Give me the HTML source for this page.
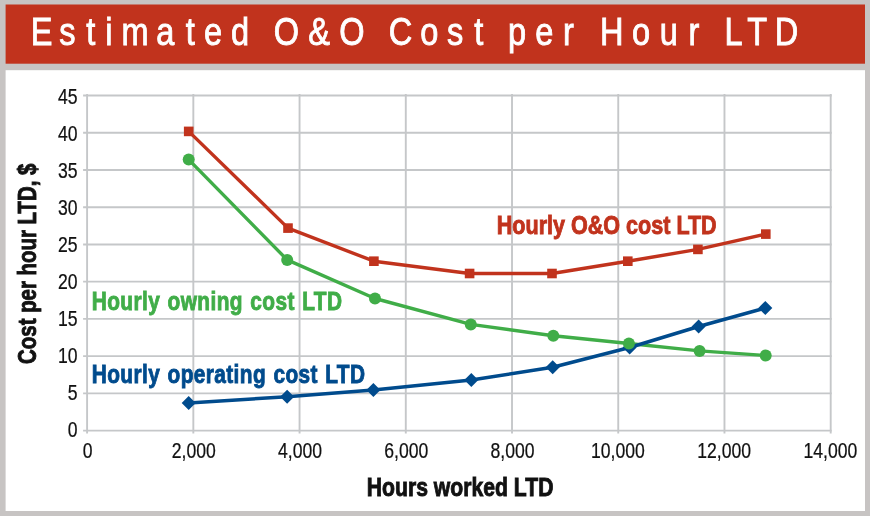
<!DOCTYPE html>
<html lang="en">
<head>
<meta charset="utf-8">
<title>Estimated O&amp;O Cost per Hour LTD</title>
<style>
html,body{margin:0;padding:0;background:#c7c4c3;}
body{width:870px;height:516px;overflow:hidden;font-family:"Liberation Sans",sans-serif;}
svg{display:block;}
text{font-family:"Liberation Sans",sans-serif;}
.tick{font-size:22.8px;fill:#111;stroke:#111;stroke-width:0.25;}
.lbl{font-weight:bold;stroke-linejoin:miter;}
</style>
</head>
<body>
<svg width="870" height="516" viewBox="0 0 870 516">
<rect x="0" y="0" width="870" height="516" fill="#c7c4c3"/>
<rect x="5.6" y="4.5" width="859.4" height="59.2" fill="#c1331d"/>
<rect x="5.6" y="70.2" width="859.4" height="440.8" fill="#ffffff"/>
<text transform="translate(29.90 45.40) scale(0.8300 1)" class="" text-anchor="start" fill="#ffffff" stroke="#ffffff" stroke-width="0.9" font-size="39.2" letter-spacing="11.12" word-spacing="-3.2" dx="1.02 -2.83 1.69 1.02 -0.30 -1.99 2.47 0.00 -0.24 0.00 -0.36 0.00 0.00 0.00 -0.78 -1.51 -0.60 2.23 0.00 -0.30 0.00 0.60 0.00 1.57 -1.08 0.66 1.57 0.00 0.42 -2.53 -1.87">Estimated O&amp;O Cost per Hour LTD</text>
<g stroke="#c5c7c9" stroke-width="1.9" fill="none">
<line x1="83.10" y1="95.50" x2="831.70" y2="95.50"/>
<line x1="83.10" y1="132.73" x2="831.70" y2="132.73"/>
<line x1="83.10" y1="169.97" x2="831.70" y2="169.97"/>
<line x1="83.10" y1="207.20" x2="831.70" y2="207.20"/>
<line x1="83.10" y1="244.43" x2="831.70" y2="244.43"/>
<line x1="83.10" y1="281.67" x2="831.70" y2="281.67"/>
<line x1="83.10" y1="318.90" x2="831.70" y2="318.90"/>
<line x1="83.10" y1="356.13" x2="831.70" y2="356.13"/>
<line x1="83.10" y1="393.37" x2="831.70" y2="393.37"/>
<line x1="83.10" y1="430.60" x2="831.70" y2="430.60"/>
<line x1="87.10" y1="94.00" x2="87.10" y2="433.50"/>
<line x1="193.33" y1="94.00" x2="193.33" y2="433.50"/>
<line x1="299.56" y1="94.00" x2="299.56" y2="433.50"/>
<line x1="405.79" y1="94.00" x2="405.79" y2="433.50"/>
<line x1="512.01" y1="94.00" x2="512.01" y2="433.50"/>
<line x1="618.24" y1="94.00" x2="618.24" y2="433.50"/>
<line x1="724.47" y1="94.00" x2="724.47" y2="433.50"/>
<line x1="830.70" y1="94.00" x2="830.70" y2="433.50"/>
</g>
<text transform="translate(77.60 103.70) scale(0.7720 1)" class="tick" text-anchor="end" >45</text>
<text transform="translate(77.60 140.70) scale(0.7720 1)" class="tick" text-anchor="end" >40</text>
<text transform="translate(77.60 177.70) scale(0.7720 1)" class="tick" text-anchor="end" >35</text>
<text transform="translate(77.60 214.70) scale(0.7720 1)" class="tick" text-anchor="end" >30</text>
<text transform="translate(77.60 251.70) scale(0.7720 1)" class="tick" text-anchor="end" >25</text>
<text transform="translate(77.60 288.70) scale(0.7720 1)" class="tick" text-anchor="end" >20</text>
<text transform="translate(77.60 325.70) scale(0.7720 1)" class="tick" text-anchor="end" >15</text>
<text transform="translate(77.60 362.70) scale(0.7720 1)" class="tick" text-anchor="end" >10</text>
<text transform="translate(77.60 399.70) scale(0.7720 1)" class="tick" text-anchor="end" >5</text>
<text transform="translate(77.60 436.70) scale(0.7720 1)" class="tick" text-anchor="end" >0</text>
<text transform="translate(87.60 457.90) scale(0.7720 1)" class="tick" text-anchor="middle" >0</text>
<text transform="translate(193.83 457.90) scale(0.7720 1)" class="tick" text-anchor="middle" >2,000</text>
<text transform="translate(300.06 457.90) scale(0.7720 1)" class="tick" text-anchor="middle" >4,000</text>
<text transform="translate(406.29 457.90) scale(0.7720 1)" class="tick" text-anchor="middle" >6,000</text>
<text transform="translate(512.51 457.90) scale(0.7720 1)" class="tick" text-anchor="middle" >8,000</text>
<text transform="translate(617.94 457.90) scale(0.7720 1)" class="tick" text-anchor="middle" >10,000</text>
<text transform="translate(724.17 457.90) scale(0.7720 1)" class="tick" text-anchor="middle" >12,000</text>
<text transform="translate(830.40 457.90) scale(0.7720 1)" class="tick" text-anchor="middle" >14,000</text>
<text transform="translate(366.77 496.45) scale(0.8277 1)" class="lbl" text-anchor="start" fill="#111111" stroke="#111111" stroke-width="0.9" word-spacing="0.0" letter-spacing="0.0" font-size="25.6">Hours worked LTD</text>
<text transform="translate(35.75 363.90) rotate(-90) scale(0.7980 1)" class="lbl" text-anchor="start" fill="#111111" stroke="#111111" stroke-width="0.9" font-size="25.6">Cost per hour LTD, $</text>
<text transform="translate(496.75 233.75) scale(0.8424 1)" class="lbl" text-anchor="start" fill="#c1331d" stroke="#c1331d" stroke-width="0.9" word-spacing="0.0" letter-spacing="0.0" font-size="25.6">Hourly O&amp;O cost LTD</text>
<text transform="translate(91.78 309.65) scale(0.8144 1)" class="lbl" text-anchor="start" fill="#40ad48" stroke="#40ad48" stroke-width="0.9" word-spacing="1.5" letter-spacing="0.5" font-size="25.6">Hourly owning cost LTD</text>
<text transform="translate(91.78 382.65) scale(0.8132 1)" class="lbl" text-anchor="start" fill="#004b8d" stroke="#004b8d" stroke-width="0.9" word-spacing="1.5" letter-spacing="0.5" font-size="25.6">Hourly operating cost LTD</text>
<polyline points="188.7,159.6 287.2,259.9 375,298.5 470.8,324.4 553.3,335.7 628.9,343.55 699.6,350.9 765.7,355.5" fill="none" stroke="#40ad48" stroke-width="3.4" stroke-linejoin="round"/>
<polyline points="188.7,403.0 287.1,396.7 373.4,390.1 471.3,380.1 552.7,367.3 629.6,347.5 698.6,326.5 765.3,308.0" fill="none" stroke="#004b8d" stroke-width="3.5" stroke-linejoin="round"/>
<g fill="#004b8d"><path d="M181.70 403.00L188.70 396.00L195.70 403.00L188.70 410.00Z"/><path d="M280.10 396.70L287.10 389.70L294.10 396.70L287.10 403.70Z"/><path d="M366.40 390.10L373.40 383.10L380.40 390.10L373.40 397.10Z"/><path d="M464.30 380.10L471.30 373.10L478.30 380.10L471.30 387.10Z"/><path d="M545.70 367.30L552.70 360.30L559.70 367.30L552.70 374.30Z"/><path d="M622.60 347.50L629.60 340.50L636.60 347.50L629.60 354.50Z"/><path d="M691.60 326.50L698.60 319.50L705.60 326.50L698.60 333.50Z"/><path d="M758.30 308.00L765.30 301.00L772.30 308.00L765.30 315.00Z"/></g>
<g fill="#40ad48"><circle cx="188.7" cy="159.6" r="6"/><circle cx="287.2" cy="259.9" r="6"/><circle cx="375" cy="298.5" r="6"/><circle cx="470.8" cy="324.4" r="6"/><circle cx="553.3" cy="335.7" r="6"/><circle cx="628.9" cy="343.55" r="6"/><circle cx="699.6" cy="350.9" r="6"/><circle cx="765.7" cy="355.5" r="6"/></g>
<polyline points="188.7,131.4 288.0,228.1 373.9,261.2 469.6,273.5 552,273.5 627.8,261.2 697.9,249.4 765.8,234.1" fill="none" stroke="#c1331d" stroke-width="3.4" stroke-linejoin="round"/>
<g fill="#c1331d"><rect x="183.90" y="126.60" width="9.6" height="9.6"/><rect x="283.20" y="223.30" width="9.6" height="9.6"/><rect x="369.10" y="256.40" width="9.6" height="9.6"/><rect x="464.80" y="268.70" width="9.6" height="9.6"/><rect x="547.20" y="268.70" width="9.6" height="9.6"/><rect x="623.00" y="256.40" width="9.6" height="9.6"/><rect x="693.10" y="244.60" width="9.6" height="9.6"/><rect x="761.00" y="229.30" width="9.6" height="9.6"/></g>
</svg>
</body>
</html>
